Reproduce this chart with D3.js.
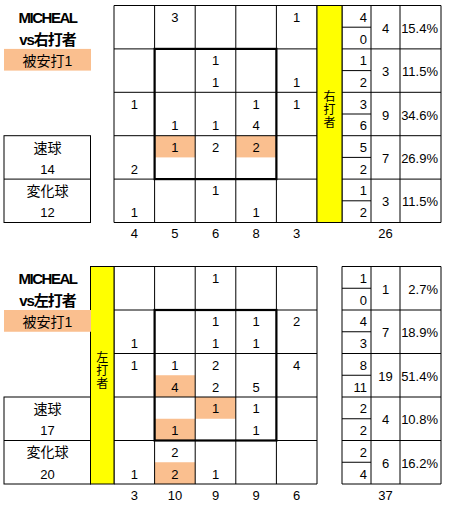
<!DOCTYPE html>
<html>
<head>
<meta charset="utf-8">
<script src="https://cdn.jsdelivr.net/npm/d3@7/dist/d3.min.js"></script>
<style>
body { margin: 0; background: #fff; }
text { font-family: "Liberation Sans", "Noto Sans CJK JP", sans-serif; font-size: 13px; fill: #000; }
</style>
</head>
<body>
<div id="chart"></div>
<script>
// pitcher / split labels
var pitcher = "MICHEAL";
var vsLabels = ["vs右打者", "vs左打者"];
var batterLabels = ["右打者", "左打者"];
var hitLabels = ["被安打1", "被安打1"];
var pitchTypes = ["速球", "変化球"];
var rightPitchCounts = [14, 12];
var leftPitchCounts = [17, 20];

// 5 zone columns, 10 sub-rows (two per zone row)
var zoneCols = [0, 1, 2, 3, 4];
var subRows = [0, 1, 2, 3, 4, 5, 6, 7, 8, 9];

// vs right-handed batters
var rightCounts = [
  [null, 3, null, null, 1],
  [null, null, null, null, null],
  [null, null, 1, null, null],
  [null, null, 1, null, 1],
  [1, null, null, 1, 1],
  [null, 1, 1, 4, null],
  [null, 1, 2, 2, null],
  [2, null, null, null, null],
  [null, null, 1, null, null],
  [1, null, null, 1, null]
];
var rightHits = [[6, 1], [6, 3]];

// vs left-handed batters
var leftCounts = [
  [null, null, 1, null, null],
  [null, null, null, null, null],
  [null, null, 1, 1, 2],
  [1, null, 1, 1, null],
  [1, 1, 2, null, 4],
  [null, 4, 2, 5, null],
  [null, null, 1, 1, null],
  [null, 1, null, 1, null],
  [null, 2, null, null, null],
  [1, 2, 1, null, null]
];
var leftHits = [[5, 1], [6, 2], [7, 1], [9, 1]];

var W = 453, H = 514;
var hitColor = "#FABF8F";

var svg = d3.select("#chart").append("svg")
  .attr("width", W)
  .attr("height", H);

var x = d3.scaleBand().domain(zoneCols).range([114, 317]);
var pct = d3.format(".1%");

function drawChart(top, bottom, counts, hits, pitchCounts, idx, yellowX0, yellowX1) {
  var g = svg.append("g");
  var y = d3.scaleBand().domain(subRows).range([top, bottom]);
  var sh = y.bandwidth();
  var rowEdges = [0, 2, 4, 6, 8].map(function(s){ return y(s); }).concat([bottom]);
  var tx0 = 342, tx1 = 371, tx2 = 400, tx3 = 441;

  // hit highlights
  g.selectAll(".hit").data(hits).enter().append("rect")
    .attr("x", function(d){ return x(d[1]); })
    .attr("y", function(d){ return y(d[0]); })
    .attr("width", x.bandwidth())
    .attr("height", sh)
    .attr("fill", hitColor);

  // grid horizontal lines
  var hRight = idx == 0 ? tx3 : 317;
  rowEdges.forEach(function(yy){
    g.append("line").attr("x1", 114).attr("x2", hRight).attr("y1", yy).attr("y2", yy)
      .attr("stroke", "#000").attr("stroke-width", 1);
  });
  if (idx == 1) {
    rowEdges.forEach(function(yy){
      g.append("line").attr("x1", tx0).attr("x2", tx3).attr("y1", yy).attr("y2", yy)
        .attr("stroke", "#000").attr("stroke-width", 1);
    });
  }
  // grid vertical lines
  zoneCols.concat([5]).forEach(function(c){
    var xx = c < 5 ? x(c) : 317;
    g.append("line").attr("x1", xx).attr("x2", xx).attr("y1", top).attr("y2", bottom)
      .attr("stroke", "#000").attr("stroke-width", 1);
  });
  // table vertical lines
  [tx0, tx1, tx2, tx3].forEach(function(xx){
    g.append("line").attr("x1", xx).attr("x2", xx).attr("y1", top).attr("y2", bottom)
      .attr("stroke", "#000").attr("stroke-width", 1);
  });
  // half-row lines in split column
  [1, 3, 5, 7, 9].forEach(function(s){
    g.append("line").attr("x1", tx0).attr("x2", tx1).attr("y1", y(s)).attr("y2", y(s))
      .attr("stroke", "#000").attr("stroke-width", 1);
  });

  // strike zone
  g.append("rect")
    .attr("x", x(1)).attr("y", y(2))
    .attr("width", x(3) + x.bandwidth() - x(1))
    .attr("height", y(8) - y(2))
    .attr("fill", "none").attr("stroke", "#000").attr("stroke-width", 2.2);

  // cell values
  var cells = [];
  counts.forEach(function(row, s){
    row.forEach(function(v, c){ if (v != null) cells.push({s: s, c: c, v: v}); });
  });
  g.selectAll(".cell").data(cells).enter().append("text")
    .attr("x", function(d){ return x(d.c) + x.bandwidth() / 2; })
    .attr("y", function(d){ return y(d.s) + sh / 2 + 1; })
    .attr("text-anchor", "middle")
    .attr("dominant-baseline", "central")
    .text(function(d){ return d.v; });

  // column totals
  var colTotals = zoneCols.map(function(c){
    return d3.sum(counts, function(r){ return r[c] || 0; });
  });
  var total = d3.sum(colTotals);
  g.selectAll(".ctot").data(colTotals).enter().append("text")
    .attr("x", function(d, i){ return x(i) + x.bandwidth() / 2; })
    .attr("y", bottom + 11)
    .attr("text-anchor", "middle")
    .attr("dominant-baseline", "central")
    .text(function(d){ return d; });
  g.append("text")
    .attr("x", (tx1 + tx2) / 2).attr("y", bottom + 11)
    .attr("text-anchor", "middle").attr("dominant-baseline", "central")
    .text(total);

  // split sums, row totals, share
  var subSums = counts.map(function(r){ return d3.sum(r, function(v){ return v || 0; }); });
  g.selectAll(".sub").data(subSums).enter().append("text")
    .attr("x", tx1 - 4)
    .attr("y", function(d, s){ return y(s) + sh / 2 + 1; })
    .attr("text-anchor", "end")
    .attr("dominant-baseline", "central")
    .text(function(d){ return d; });
  var rowTotals = [0, 1, 2, 3, 4].map(function(r){ return subSums[2 * r] + subSums[2 * r + 1]; });
  g.selectAll(".rtot").data(rowTotals).enter().append("text")
    .attr("x", (tx1 + tx2) / 2)
    .attr("y", function(d, r){ return y(2 * r + 1) + 1; })
    .attr("text-anchor", "middle")
    .attr("dominant-baseline", "central")
    .text(function(d){ return d; });
  g.selectAll(".rpct").data(rowTotals).enter().append("text")
    .attr("x", tx3 - 3)
    .attr("y", function(d, r){ return y(2 * r + 1) + 1; })
    .attr("text-anchor", "end")
    .attr("dominant-baseline", "central")
    .text(function(d){ return pct(d / total); });

  // yellow batter column
  g.append("rect")
    .attr("x", yellowX0).attr("y", top)
    .attr("width", yellowX1 - yellowX0).attr("height", bottom - top)
    .attr("fill", "#FFFF00").attr("stroke", "#000").attr("stroke-width", 1);
  var chars = batterLabels[idx].split("");
  g.selectAll(".bat").data(chars).enter().append("text")
    .attr("x", (yellowX0 + yellowX1) / 2)
    .attr("y", function(d, i){ return (top + bottom) / 2 - 4.5 + (i - 1) * 13; })
    .attr("text-anchor", "middle")
    .attr("dominant-baseline", "central")
    .style("font-size", "12px")
    .text(function(d){ return d; });

  // left labels
  g.append("text").attr("x", 47.5).attr("y", y(0) + 12)
    .attr("text-anchor", "middle").attr("dominant-baseline", "central")
    .style("font-weight", "bold").style("font-size", "15px").style("letter-spacing", "-1.5px")
    .text(pitcher);
  g.append("text").attr("x", 47.5).attr("y", y(1) + 12)
    .attr("text-anchor", "middle").attr("dominant-baseline", "central")
    .style("font-weight", "bold").style("font-size", "15px").style("letter-spacing", "-1px")
    .text(vsLabels[idx]);
  g.append("rect").attr("x", 4).attr("y", y(2))
    .attr("width", 87).attr("height", sh).attr("fill", hitColor);
  g.append("text").attr("x", 47.5).attr("y", y(2) + sh / 2 + 1)
    .attr("text-anchor", "middle").attr("dominant-baseline", "central")
    .style("font-size", "14px")
    .text(hitLabels[idx]);

  g.append("rect").attr("x", 4).attr("y", y(6))
    .attr("width", 86.5).attr("height", bottom - y(6))
    .attr("fill", "none").attr("stroke", "#000").attr("stroke-width", 1);
  g.append("line").attr("x1", 4).attr("x2", 90.5).attr("y1", y(8)).attr("y2", y(8))
    .attr("stroke", "#000").attr("stroke-width", 1);
  var pitchRows = [pitchTypes[0], pitchCounts[0], pitchTypes[1], pitchCounts[1]];
  g.selectAll(".pitch").data(pitchRows).enter().append("text")
    .attr("x", 47.5)
    .attr("y", function(d, i){ return y(6 + i) + sh / 2 + 1; })
    .attr("text-anchor", "middle")
    .attr("dominant-baseline", "central")
    .style("font-size", function(d, i){ return i % 2 == 0 ? "14px" : "13px"; })
    .text(function(d){ return d; });
}

drawChart(5.5, 222.5, rightCounts, rightHits, rightPitchCounts, 0, 317, 342);
drawChart(266.5, 484, leftCounts, leftHits, leftPitchCounts, 1, 90.5, 114);
</script>
</body>
</html>
